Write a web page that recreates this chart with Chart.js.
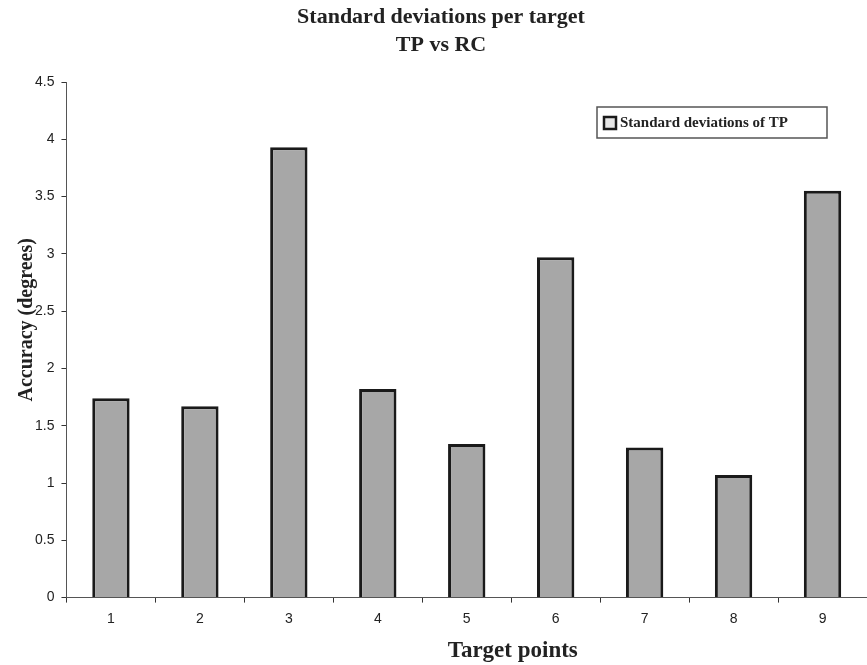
<!DOCTYPE html>
<html>
<head>
<meta charset="utf-8">
<script src="https://cdn.jsdelivr.net/npm/chart.js@4/dist/chart.umd.min.js"></script>
<style>
    body { margin: 0; background: #fff; }
    #wrap { width: 867px; height: 665px; }
</style>
</head>
<body>
<div id="wrap"><canvas id="barChart"></canvas></div>
<script>
// Chart data
const targets = ['1', '2', '3', '4', '5', '6', '7', '8', '9'];
const stdDevTP = [1.74, 1.67, 3.93, 1.82, 1.34, 2.97, 1.31, 1.07, 3.55];
const seriesLabel = 'Standard deviations of TP';
const chartTitle = ['Standard deviations per target', 'TP vs RC'];

const serif = "'Liberation Serif', 'Times New Roman', serif";
const sans = "'Liberation Sans', Arial, sans-serif";

// Legend drawn as a box inside the plot, like the original
const boxLegend = {
    id: 'boxLegend',
    afterDraw(chart) {
        const ctx = chart.ctx;
        const ds = chart.data.datasets[0];
        const x = 597, y = 107, w = 230, h = 31;
        ctx.save();
        ctx.fillStyle = '#fff';
        ctx.fillRect(x, y, w, h);
        ctx.strokeStyle = '#555';
        ctx.lineWidth = 1.5;
        ctx.strokeRect(x, y, w, h);
        // marker
        ctx.fillStyle = '#e6e6e6';
        ctx.fillRect(604, 117, 12, 12);
        ctx.strokeStyle = '#1a1a1a';
        ctx.lineWidth = 2.5;
        ctx.strokeRect(604, 117, 12, 12);
        // text
        ctx.fillStyle = '#222';
        ctx.font = 'bold 15px ' + serif;
        ctx.textBaseline = 'middle';
        ctx.fillText(ds.label, 620, 123);
        ctx.restore();
    }
};

const ctx = document.getElementById('barChart').getContext('2d');
new Chart(ctx, {
    type: 'bar',
    data: {
        labels: targets,
        datasets: [{
            label: seriesLabel,
            data: stdDevTP,
            backgroundColor: '#a7a7a7',
            borderColor: '#1a1a1a',
            borderWidth: 3,
            barPercentage: 0.42,
            categoryPercentage: 1
        }]
    },
    options: {
        responsive: true,
        maintainAspectRatio: false,
        animation: false,
        layout: { padding: { left: 15, right: 0, top: 2, bottom: 0 } },
        plugins: {
            legend: { display: false },
            tooltip: { enabled: false },
            title: {
                display: true,
                text: chartTitle,
                color: '#222',
                font: { family: serif, size: 22, weight: 'bold', lineHeight: 1.25 },
                padding: { top: 2, bottom: 23 }
            }
        },
        scales: {
            x: {
                offset: true,
                grid: {
                    offset: true,
                    drawOnChartArea: false,
                    drawTicks: true,
                    tickLength: 5,
                    color: '#333'
                },
                border: { display: true, color: '#555', width: 1 },
                ticks: { color: '#222', font: { family: sans, size: 14 }, padding: 8 },
                title: {
                    display: true,
                    // original title sits right of centre
                    text: '\u2007\u2007\u2007\u2007\u2007\u2007\u2007\u2007Target points',
                    color: '#222',
                    font: { family: serif, size: 23, weight: 'bold' },
                    padding: { top: 2, bottom: 0 }
                }
            },
            y: {
                min: 0,
                max: 4.5,
                ticks: {
                    stepSize: 0.5,
                    color: '#222',
                    font: { family: sans, size: 14 },
                    padding: 7,
                    callback: value => String(value)
                },
                grid: {
                    drawOnChartArea: false,
                    drawTicks: true,
                    tickLength: 5,
                    color: '#333'
                },
                border: { display: true, color: '#555', width: 1 },
                title: {
                    display: true,
                    // leading spaces lift the title a little, as in the original
                    text: '\u2007\u2007\u2007\u2007Accuracy (degrees)',
                    color: '#222',
                    font: { family: serif, size: 20, weight: 'bold' },
                    // the original title overlaps the tick labels
                    padding: { top: 0, bottom: -11 }
                }
            }
        }
    },
    plugins: [boxLegend]
});
</script>
</body>
</html>
